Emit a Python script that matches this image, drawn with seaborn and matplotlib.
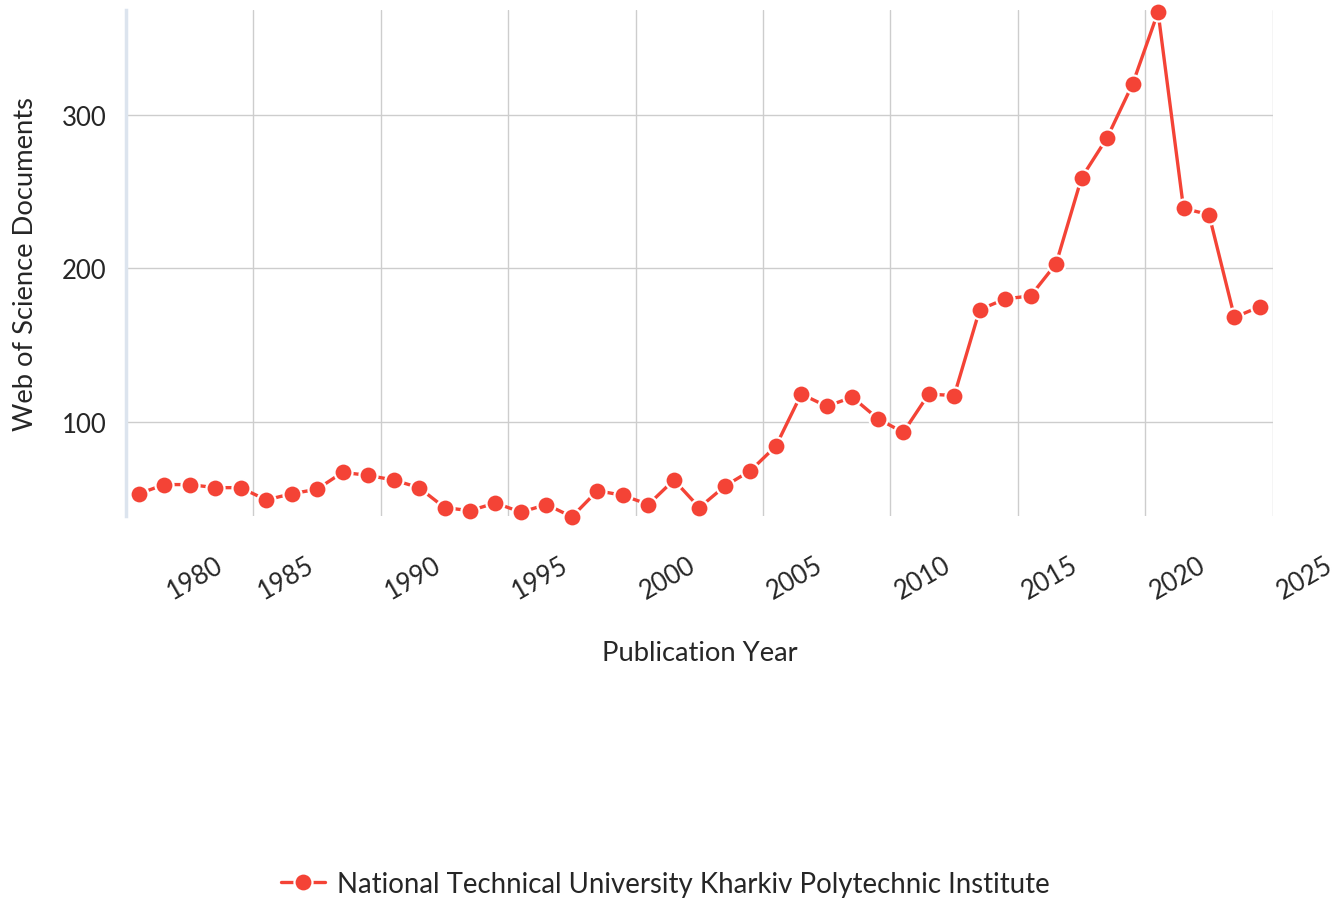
import pandas as pd
import matplotlib.pyplot as plt
import seaborn as sns
from matplotlib.lines import Line2D
from matplotlib.transforms import ScaledTranslation

# ---- data ----
years = list(range(1980, 2025))
docs = [53, 59, 59, 57, 57, 49, 53, 56, 67, 65,
        62, 57, 44, 42, 47, 41, 46, 38, 55, 52,
        46, 62, 44, 58, 68, 84, 118, 110, 116, 102,
        93, 118, 117, 173, 180, 182, 203, 259, 285, 320,
        367, 239, 235, 168, 175]
x_ticks = list(range(1980, 2030, 5))
y_ticks = [100, 200, 300]
series_name = "National Technical University Kharkiv Polytechnic Institute"

RED = "#f44336"
TEXT = "#262626"

df = pd.DataFrame({"year": years, "docs": docs})
df["x"] = df["year"] + 0.5  # points sit in the middle of each year

sns.set_theme(style="white")
plt.rcParams["font.family"] = ["Lato", "DejaVu Sans"]

fig = plt.figure(figsize=(13.39, 9.04), dpi=100)
ax = fig.add_axes([0.0941, 0.4284, 0.8564, 0.5594])

sns.lineplot(data=df, x="x", y="docs", ax=ax, color=RED, linewidth=2.4,
             marker="o", markersize=13, markeredgecolor="white",
             markeredgewidth=1.6, legend=False, clip_on=False, zorder=3)

ax.set_xlim(1980, 2025)
ax.set_ylim(38.7, 368.3)
ax.set_xticks(x_ticks)
ax.set_yticks(y_ticks)
ax.grid(True, color="#cdcdcd", linewidth=1)

for side in ["top", "right", "bottom"]:
    ax.spines[side].set_visible(False)
ax.spines["left"].set_color("#dce4ee")
ax.spines["left"].set_linewidth(2.5)

ax.tick_params(axis="both", length=0, labelsize=18.5, colors=TEXT)
ax.tick_params(axis="x", pad=26)
ax.tick_params(axis="y", pad=14)
for lbl in ax.get_xticklabels():
    lbl.set_rotation(30)
    lbl.set_ha("left")
# first label is nudged right, clear of the y axis
first = ax.get_xticklabels()[0]
first.set_transform(first.get_transform() + ScaledTranslation(0.37, 0, fig.dpi_scale_trans))

ax.set_xlabel("Publication Year", fontsize=19.7, color=TEXT, labelpad=26)
ax.set_ylabel("Web of Science Documents", fontsize=19.7, color=TEXT, labelpad=17)

handle = Line2D([0], [0], color=RED, lw=2.4, marker="o", markersize=13,
                markeredgecolor="white", markeredgewidth=1.6)
fig.legend(handles=[handle], labels=[series_name], loc="center",
           bbox_to_anchor=(0.497, 1 - 885 / 904), frameon=False, fontsize=19.9,
           handlelength=1.6, handletextpad=0.45, labelcolor=TEXT)

fig.savefig("out.png", dpi=100)
